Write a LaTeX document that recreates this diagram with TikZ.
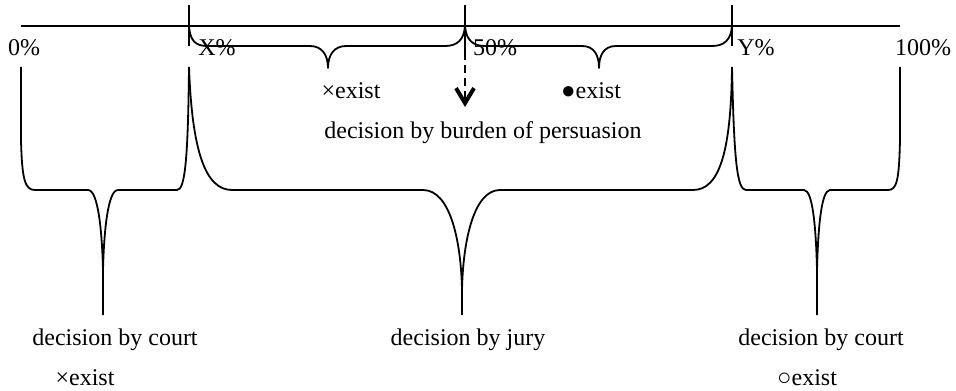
\documentclass[tikz,border=0pt]{standalone}
\usepackage{fontspec}
\setmainfont{Liberation Serif}
\usetikzlibrary{arrows.meta,positioning,calc}
\tikzset{
  lbl/.style={inner sep=0pt,anchor=base,font=\fontsize{12}{14}\selectfont},
  axis/.style={line width=0.6pt},
  brace/.style={line width=0.9pt,line join=round},
  dasharr/.style={line width=1pt,dash pattern=on 4pt off 2.5pt,
                  -{Straight Barb[length=7.5pt,width=9pt,line width=2pt]}}
}

\begin{document}
\begin{tikzpicture}[x=0.5pt,y=-0.5pt]
  \useasboundingbox (0,0) rectangle (956,390);
  % scale points
  \coordinate (a0) at (21,26);
  \coordinate (aX) at (189,26);
  \coordinate (a50) at (465,26);
  \coordinate (aY) at (732,26);
  \coordinate (a100) at (900,26);
  \coordinate (t50) at (465,52);
  \coordinate (arrtip) at (465,107);
  \coordinate (b0) at (21,67);
  \coordinate (bX) at (189,67);
  \coordinate (bY) at (732,67);
  \coordinate (b100) at (900,67);
  % labels
  \node[lbl] (p0) at (24,56) {0\%};
  \node[lbl] (pX) at (217,56) {X\%};
  \node[lbl] (p50) at (495,56) {50\%};
  \node[lbl] (pY) at (756,56) {Y\%};
  \node[lbl] (p100) at (923,56) {100\%};
  \node[lbl] (exA) at (351,98) {×exist};
  \node[lbl] (exB) at (591,98) {●exist};
  \node[lbl] (burden) at (483,138) {decision by burden of persuasion};
  \node[lbl] (court1) at (115,345) {decision by court};
  \node[lbl] (jury) at (468,345) {decision by jury};
  \node[lbl] (court2) at (821,345) {decision by court};
  \node[lbl] (ex1) at (85,385) {×exist};
  \node[lbl] (ex2) at (807,385) {○exist};
  % axis and ticks
  \draw[axis] (a0) -- (a100);
  \draw[axis] ($(aX)+(0,-21)$) -- ($(aX)+(0,20)$);
  \draw[axis] ($(aY)+(0,-21)$) -- ($(aY)+(0,20)$);
  \draw[axis] ($(a50)+(0,-21)$) -- (t50);
  \draw[dasharr] (t50) -- (arrtip);
  % upper braces
  \draw[brace] (aX) .. controls (190,40) and (195,46) .. (207,46) -- (310,46)
    .. controls (322,46) and (328,55) .. (328,68)
    .. controls (328,55) and (334,46) .. (346,46) -- (445,46)
    .. controls (457,46) and (464,40) .. (a50);
  \draw[brace] (a50) .. controls (466,40) and (473,46) .. (485,46) -- (582,46)
    .. controls (594,46) and (599,55) .. (599,68)
    .. controls (599,55) and (604,46) .. (616,46) -- (712,46)
    .. controls (724,46) and (731,40) .. (aY);
  % lower braces
  \draw[brace] (b0) -- (21,140) .. controls (22,180) and (25,190) .. (35,190) -- (88,190)
    .. controls (98,190) and (102,230) .. (103,270) -- (103,315);
  \draw[brace] (103,270) .. controls (104,230) and (108,190) .. (118,190) -- (177,190)
    .. controls (185,190) and (188,160) .. (bX);
  \draw[brace] (bX) .. controls (192,150) and (205,190) .. (232,190) -- (423,190)
    .. controls (450,190) and (461,240) .. (462,290) -- (462,315);
  \draw[brace] (462,290) .. controls (463,240) and (474,190) .. (500,190) -- (693,190)
    .. controls (720,190) and (731,150) .. (bY);
  \draw[brace] (bY) .. controls (734,160) and (737,190) .. (746,190) -- (804,190)
    .. controls (813,190) and (816,230) .. (817,270) -- (817,315);
  \draw[brace] (817,270) .. controls (818,230) and (821,190) .. (830,190) -- (888,190)
    .. controls (897,190) and (899,180) .. (900,140) -- (b100);
\end{tikzpicture}
\end{document}
